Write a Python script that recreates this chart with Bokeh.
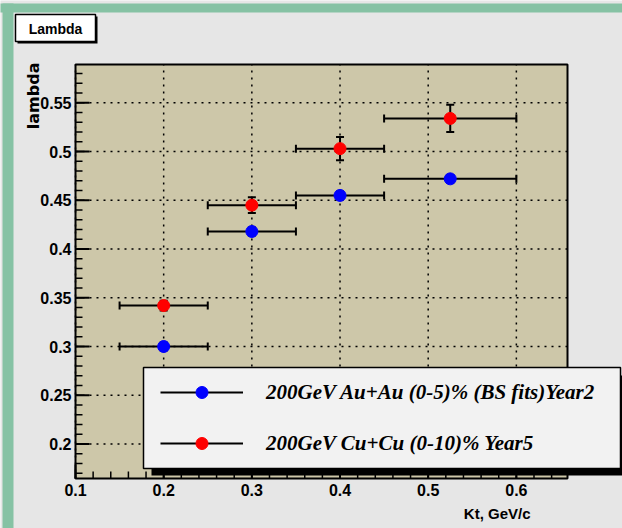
from math import pi

from bokeh.core.properties import value
from bokeh.embed import file_html
from bokeh.resources import INLINE
from bokeh.plotting import figure
from bokeh.models import ColumnDataSource, Legend, LegendItem

# ---- data ---------------------------------------------------------------
kt = [0.2, 0.3, 0.4, 0.525]
kt_lo = [0.15, 0.25, 0.35, 0.45]
kt_hi = [0.25, 0.35, 0.45, 0.6]

auau_lambda = [0.300, 0.418, 0.455, 0.472]
auau_err = [0.004, 0.004, 0.004, 0.004]

cucu_lambda = [0.342, 0.445, 0.503, 0.534]
cucu_err = [0.005, 0.008, 0.012, 0.014]

auau_label = "200GeV Au+Au (0-5)% (BS fits)Year2"
cucu_label = "200GeV Cu+Cu (0-10)% Year5"

x_ticks = [0.1, 0.2, 0.3, 0.4, 0.5, 0.6]
x_tick_labels = ["0.1", "0.2", "0.3", "0.4", "0.5", "0.6"]
y_ticks = [0.2, 0.25, 0.3, 0.35, 0.4, 0.45, 0.5, 0.55]
y_tick_labels = ["0.2", "0.25", "0.3", "0.35", "0.4", "0.45", "0.5", "0.55"]
x_minor = [round(0.1 + 0.02 * i, 2) for i in range(28)]
y_minor = [round(0.17 + 0.01 * i, 2) for i in range(42)]

# ---- geometry of the pad (pixels) and axis ranges ------------------------
W, H = 622, 528
FL, FR, FT, FB = 75, 567, 64, 478
X0, X1 = 0.1, 0.658
Y0, Y1 = 0.1646, 0.5893

def dx(px):
    return X0 + (px - FL) * (X1 - X0) / (FR - FL)

def dy(py):
    return Y0 + (FB - py) * (Y1 - Y0) / (FB - FT)

# the figure frame covers the whole canvas; the pad is drawn inside it
p = figure(width=W, height=H, x_range=(dx(0), dx(W)), y_range=(dy(H), dy(0)),
           output_backend="svg", toolbar_location=None,
           x_axis_location=None, y_axis_location=None,
           min_border=0, outline_line_color=None)
p.title.visible = False
p.grid.visible = False
p.background_fill_color = "#e6e6e6"
p.border_fill_color = "#e6e6e6"

FONT = value("Liberation Sans")

# canvas border stripes
p.quad(left=[dx(-5), dx(2)], right=[dx(W + 5), dx(13)],
       top=[dy(3), dy(3)], bottom=[dy(12), dy(H + 5)],
       fill_color="#86c2a4", line_color=None)

# title box
p.quad(left=dx(17), right=dx(97), top=dy(16), bottom=dy(43),
       fill_color="black", line_color=None)
p.quad(left=dx(15), right=dx(95), top=dy(14), bottom=dy(41),
       fill_color="white", line_color="black", line_width=1.5)
p.text(x=[dx(55)], y=[dy(28)], text=["Lambda"], text_align="center",
       text_baseline="middle", text_font=FONT, text_font_style="bold",
       text_font_size="14px", text_color="black")

# pad background
p.quad(left=X0, right=X1, bottom=Y0, top=Y1, fill_color="#cdc7a9", line_color=None)

# dotted grid at major ticks
p.segment(x0=x_ticks, x1=x_ticks, y0=[Y0] * len(x_ticks), y1=[Y1] * len(x_ticks),
          line_color="black", line_width=1.5, line_dash="2 5")
p.segment(x0=[X0] * len(y_ticks), x1=[X1] * len(y_ticks), y0=y_ticks, y1=y_ticks,
          line_color="black", line_width=1.5, line_dash="2 5")

# inward ticks
p.ray(x=[X0] * len(y_ticks), y=y_ticks, length=14, length_units="screen", angle=0,
      line_color="black", line_width=2)
p.ray(x=[X0] * len(y_minor), y=y_minor, length=7, length_units="screen", angle=0,
      line_color="black", line_width=1.5)
p.ray(x=x_ticks, y=[Y0] * len(x_ticks), length=14, length_units="screen", angle=pi / 2,
      line_color="black", line_width=2)
p.ray(x=x_minor, y=[Y0] * len(x_minor), length=7, length_units="screen", angle=pi / 2,
      line_color="black", line_width=1.5)

# tick labels
p.text(x=[X0] * len(y_ticks), y=y_ticks, text=y_tick_labels, x_offset=-4,
       text_align="right", text_baseline="middle", text_font=FONT,
       text_font_style="bold", text_font_size="16px", text_color="black")
p.text(x=x_ticks, y=[Y0] * len(x_ticks), text=x_tick_labels, y_offset=5,
       text_align="center", text_baseline="top", text_font=FONT,
       text_font_style="bold", text_font_size="16px", text_color="black")

# axis titles
p.text(x=[dx(33)], y=[dy(62)], text=["lambda"], angle=pi / 2,
       text_align="right", text_baseline="middle", text_font=value("DejaVu Sans"),
       text_font_style="bold", text_font_size="16px", text_color="black")
p.text(x=[dx(530)], y=[dy(513)], text=["Kt, GeV/c"], text_align="right",
       text_baseline="middle", text_font=FONT, text_font_style="bold",
       text_font_size="15px", text_color="black")

# ---- data marks: error bars with end caps, then the points ----------------
def series(yvals, errs, color):
    src = ColumnDataSource(dict(
        x=kt, y=yvals, xlo=kt_lo, xhi=kt_hi,
        ylo=[v - e for v, e in zip(yvals, errs)],
        yhi=[v + e for v, e in zip(yvals, errs)]))
    seg = p.segment(x0="xlo", x1="xhi", y0="y", y1="y", source=src,
                    line_color="black", line_width=2)
    p.segment(x0="x", x1="x", y0="ylo", y1="yhi", source=src,
              line_color="black", line_width=2)
    for cx, cy, ang in (("xlo", "y", pi / 2), ("xhi", "y", pi / 2),
                        ("x", "ylo", 0), ("x", "yhi", 0)):
        p.scatter(cx, cy, source=src, marker="dash", size=8, angle=ang,
                  line_color="black", line_width=2)
    sc = p.scatter("x", "y", source=src, size=12, marker="circle",
                   fill_color=color, line_color=color)
    return [seg, sc]

au_r = series(auau_lambda, auau_err, "#0000ff")
cu_r = series(cucu_lambda, cucu_err, "#ff0000")

# pad frame
p.quad(left=X0, right=X1, bottom=Y0, top=Y1, fill_alpha=0,
       line_color="black", line_width=2)

# legend box with shadow
p.quad(left=dx(151), right=dx(W + 10), top=dy(375), bottom=dy(475),
       fill_color="black", line_color=None)
p.quad(left=dx(143), right=dx(620), top=dy(367), bottom=dy(468),
       fill_color="#f2f2f2", line_color="black", line_width=1.5)

legend = Legend(items=[LegendItem(label=auau_label, renderers=au_r),
                       LegendItem(label=cucu_label, renderers=cu_r)],
                location=(150, H - 468), margin=0,
                padding=10, spacing=21, glyph_width=83, glyph_height=30,
                label_height=30, label_standoff=23,
                label_text_font="Liberation Serif", label_text_font_style="bold italic",
                label_text_font_size="21px", label_text_color="black",
                border_line_alpha=0, background_fill_alpha=0)
p.add_layout(legend, "center")

open("out.html", "w").write(file_html(p, INLINE))
